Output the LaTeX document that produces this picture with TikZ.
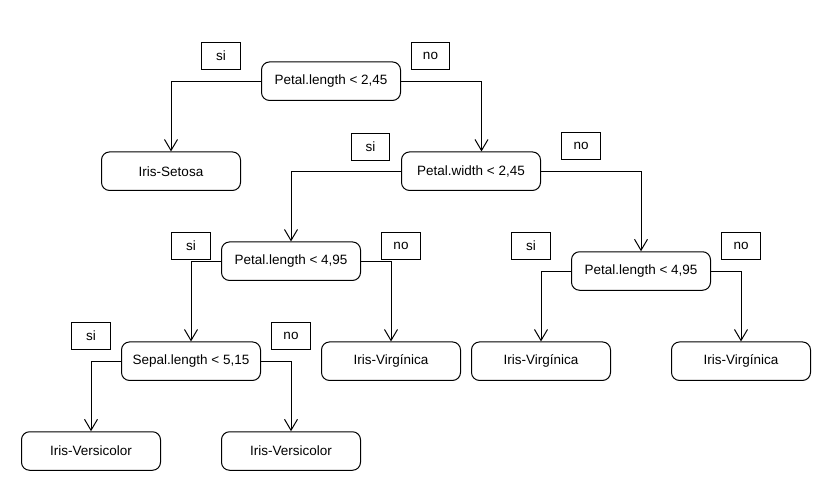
\documentclass[tikz,border=0pt]{standalone}
\usepackage{fontspec}
\setmainfont{Liberation Sans}
\usetikzlibrary{arrows.meta}

\begin{document}
\begin{tikzpicture}[x=1pt,y=-1pt,
    test/.style={draw,rounded corners=8pt,minimum width=139pt,minimum height=38.5pt,
        line width=1pt,font=\fontsize{13.5}{16}\selectfont},
    tag/.style={draw,minimum width=38.5pt,minimum height=27pt,
        line width=1pt,font=\fontsize{13.5}{16}\selectfont},
    branch/.style={line width=1pt,-{Straight Barb[length=11pt,width=13pt]}}]
    \useasboundingbox (0,0) rectangle (832,488);
    % tests and leaves
    \node[test] (root) at (331,81.2) {Petal.length < 2,45};
    \node[test] (setosa) at (171,171.2) {Iris-Setosa};
    \node[test] (pw) at (471,171.2) {Petal.width < 2,45};
    \node[test] (pl1) at (291,261.2) {Petal.length < 4,95};
    \node[test] (pl2) at (641,271) {Petal.length < 4,95};
    \node[test] (sl) at (191,361.2) {Sepal.length < 5,15};
    \node[test] (virg1) at (391,361.2) {Iris-Virgínica};
    \node[test] (virg2) at (541,361.2) {Iris-Virgínica};
    \node[test] (virg3) at (741,361.2) {Iris-Virgínica};
    \node[test] (vers1) at (91,451) {Iris-Versicolor};
    \node[test] (vers2) at (291,451) {Iris-Versicolor};
    % si / no tags
    \node[tag] (si1) at (221,55.5) {si};
    \node[tag] (no1) at (430.5,55.5) {no};
    \node[tag] (si2) at (370.5,147) {si};
    \node[tag] (no2) at (581,146.3) {no};
    \node[tag] (si3) at (191,246) {si};
    \node[tag] (no3) at (401,245.5) {no};
    \node[tag] (si4) at (531,246) {si};
    \node[tag] (no4) at (741,246) {no};
    \node[tag] (si5) at (91,336) {si};
    \node[tag] (no5) at (291,336) {no};
    % branches
    \draw[branch] (root.west) -| (setosa.north);
    \draw[branch] (root.east) -| ([xshift=10.5pt]pw.north);
    \draw[branch] (pw.west) -| (pl1.north);
    \draw[branch] (pw.east) -| (pl2.north);
    \draw[branch] (pl1.west) -| (sl.north);
    \draw[branch] (pl1.east) -| (virg1.north);
    \draw[branch] (pl2.west) -| (virg2.north);
    \draw[branch] (pl2.east) -| (virg3.north);
    \draw[branch] (sl.west) -| (vers1.north);
    \draw[branch] (sl.east) -| (vers2.north);
\end{tikzpicture}
\end{document}
